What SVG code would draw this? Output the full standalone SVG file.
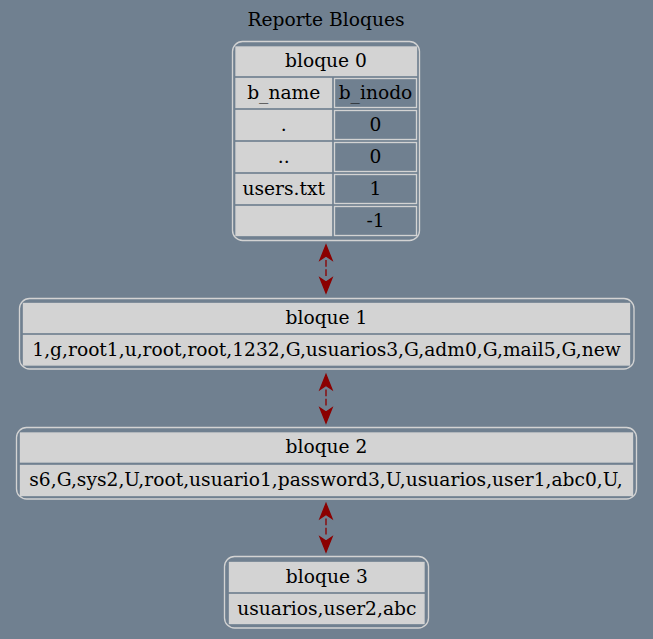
<svg xmlns="http://www.w3.org/2000/svg" width="653" height="639" viewBox="0 0 653 639">
<style>
text{font-family:"DejaVu Serif","Liberation Serif",serif;font-size:18.67px;fill:#000;text-anchor:middle}
.frame{fill:none;stroke:#d3d3d3;stroke-width:1.33}
.cell{fill:#d3d3d3;stroke:#d3d3d3;stroke-width:1.33}
.cellv{fill:#708090;stroke:#d3d3d3;stroke-width:1.33}
.edge{fill:none;stroke:#8b0000;stroke-width:1.33;stroke-dasharray:6.67 2.67}
</style>
<defs>
<marker id="vee" markerUnits="userSpaceOnUse" viewBox="-1 -8 18 16" refX="0" refY="0" markerWidth="18" markerHeight="16" orient="auto-start-reverse" overflow="visible">
<path d="M0,-6 L15,0 L0,6 L4,0 Z" fill="#8b0000" stroke="#8b0000" stroke-width="1.33" stroke-linejoin="miter"/>
</marker>
</defs>
<rect width="653" height="639" fill="#708090"/>
<text x="326" y="25.7">Reporte Bloques</text>

<g id="bloque0">
<rect class="frame" x="232.5" y="41.5" width="187" height="199" rx="10"/>
<rect class="cell" x="236" y="47" width="180.5" height="28.5"/>
<text x="326" y="66.7">bloque 0</text>
<rect class="cell" x="236" y="78.5" width="95.5" height="29"/>
<rect class="cellv" x="334.5" y="78.5" width="82" height="29"/>
<text x="283.7" y="98.5">b_name</text>
<text x="375.5" y="98.5">b_inodo</text>
<rect class="cell" x="236" y="110.5" width="95.5" height="29"/>
<rect class="cellv" x="334.5" y="110.5" width="82" height="29"/>
<text x="283.7" y="130.5">.</text>
<text x="375.5" y="130.5">0</text>
<rect class="cell" x="236" y="142.5" width="95.5" height="29"/>
<rect class="cellv" x="334.5" y="142.5" width="82" height="29"/>
<text x="283.7" y="162.5">..</text>
<text x="375.5" y="162.5">0</text>
<rect class="cell" x="236" y="174.5" width="95.5" height="29"/>
<rect class="cellv" x="334.5" y="174.5" width="82" height="29"/>
<text x="283.7" y="194.5">users.txt</text>
<text x="375.5" y="194.5">1</text>
<rect class="cell" x="236" y="206.5" width="95.5" height="29"/>
<rect class="cellv" x="334.5" y="206.5" width="82" height="29"/>
<text x="375.5" y="226.5">-1</text>
</g>

<g id="bloque1">
<rect class="frame" x="19.5" y="298.5" width="614.5" height="70.5" rx="10"/>
<rect class="cell" x="23.5" y="303.5" width="606" height="29"/>
<text x="326.5" y="323.5">bloque 1</text>
<rect class="cell" x="23.5" y="335.5" width="606" height="29.5"/>
<text x="326.5" y="355.5">1,g,root1,u,root,root,1232,G,usuarios3,G,adm0,G,mail5,G,new</text>
</g>

<g id="bloque2">
<rect class="frame" x="16.5" y="427.5" width="620" height="71.5" rx="10"/>
<rect class="cell" x="20.5" y="433" width="612" height="29"/>
<text x="326.5" y="453">bloque 2</text>
<rect class="cell" x="20.5" y="465.5" width="612" height="30"/>
<text x="326" y="485.5">s6,G,sys2,U,root,usuario1,password3,U,usuarios,user1,abc0,U,</text>
</g>

<g id="bloque3">
<rect class="frame" x="224.5" y="556.5" width="204" height="71.5" rx="10"/>
<rect class="cell" x="229.5" y="562.5" width="194.5" height="29"/>
<text x="326.8" y="582.5">bloque 3</text>
<rect class="cell" x="229.5" y="594.5" width="194.5" height="29"/>
<text x="326.8" y="614.5">usuarios,user2,abc</text>
</g>

<g id="connectors">
<path class="edge" d="M326,260 L326,278" marker-start="url(#vee)" marker-end="url(#vee)"/>
<path class="edge" d="M326,389.5 L326,408" marker-start="url(#vee)" marker-end="url(#vee)"/>
<path class="edge" d="M326,518.5 L326,537" marker-start="url(#vee)" marker-end="url(#vee)"/>
</g>
</svg>
